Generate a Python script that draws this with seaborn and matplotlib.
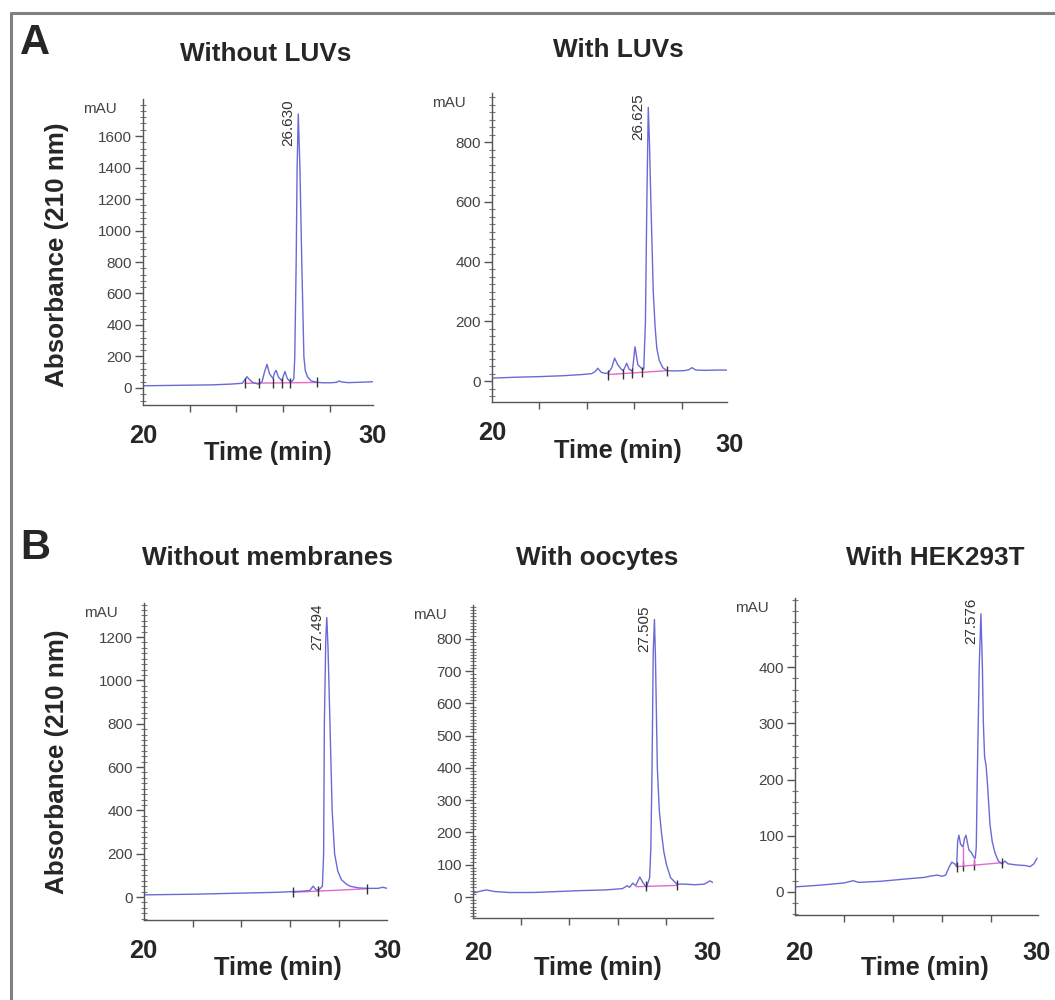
import numpy as np
import pandas as pd
import matplotlib
matplotlib.use("Agg")
import matplotlib.pyplot as plt
import seaborn as sns
from matplotlib.ticker import MultipleLocator, FixedLocator, NullFormatter
from matplotlib.lines import Line2D

# ---- chromatogram traces (time in min, absorbance in mAU) ----
luv0_t = [20.0, 21.0, 22.0, 23.0, 23.8, 24.25, 24.4, 24.45, 24.55, 24.7, 24.85, 24.97, 25.1, 25.2,
          25.31, 25.42, 25.57, 25.63, 25.70, 25.80, 25.95, 26.02, 26.08, 26.18, 26.30, 26.40, 26.46,
          26.50, 26.56, 26.60, 26.65, 26.72, 26.80, 26.89, 26.95, 27.05, 27.2, 27.45, 27.7, 28.0,
          28.3, 28.4, 28.5, 28.8, 29.2, 29.6, 29.85]
luv0_v = [14, 16, 18, 20, 25, 30, 60, 72, 55, 35, 28, 25, 40, 100,
          150, 90, 60, 95, 112, 70, 45, 80, 105, 60, 40, 45, 60,
          200, 800, 1400, 1740, 1400, 800, 200, 110, 70, 45, 36, 33, 33,
          36, 45, 38, 34, 36, 38, 40]

luv1_t = [20.0, 21.0, 22.0, 23.0, 23.8, 24.2, 24.35, 24.46, 24.6, 24.75, 24.90, 25.05, 25.17,
          25.3, 25.45, 25.53, 25.6, 25.68, 25.78, 25.92, 25.97, 26.03, 26.15, 26.34, 26.40, 26.47,
          26.53, 26.59, 26.64, 26.70, 26.80, 26.88, 26.95, 27.05, 27.2, 27.38, 27.7, 28.1, 28.3,
          28.43, 28.6, 29.0, 29.5, 29.9]
luv1_v = [10, 13, 15, 18, 22, 25, 32, 43, 30, 26, 27, 45, 77,
          55, 40, 35, 45, 60, 40, 33, 70, 115, 55, 40, 40, 200,
          600, 917, 800, 600, 300, 180, 110, 70, 45, 35, 34, 35, 38,
          45, 37, 36, 37, 37]

nomem_t = [20.0, 22.0, 24.0, 25.5, 26.5, 26.8, 26.94, 27.05, 27.15, 27.32, 27.37, 27.40, 27.46,
           27.50, 27.55, 27.63, 27.72, 27.82, 27.95, 28.1, 28.3, 28.45, 28.8, 29.2, 29.6, 29.8, 29.97]
nomem_v = [10, 13, 18, 22, 27, 30, 50, 35, 30, 50, 200, 800, 1200,
           1290, 1150, 800, 400, 200, 120, 80, 60, 50, 42, 40, 40, 45, 40]

oocyte_t = [20.0, 20.3, 20.55, 20.9, 21.5, 22.5, 23.5, 24.5, 25.5, 26.2, 26.4, 26.5, 26.63,
            26.75, 26.92, 27.05, 27.2, 27.33, 27.38, 27.43, 27.48, 27.53, 27.57, 27.65, 27.73,
            27.82, 27.92, 28.03, 28.2, 28.46, 28.8, 29.2, 29.6, 29.83, 29.96]
oocyte_v = [12, 18, 22, 17, 14, 14, 17, 20, 22, 26, 35, 30, 43,
            35, 62, 45, 30, 60, 150, 400, 760, 860, 750, 400, 270,
            200, 140, 100, 60, 40, 40, 38, 40, 50, 45]

hek_t = [20.0, 21.0, 22.0, 22.37, 22.6, 23.5, 24.5, 25.3, 25.5, 25.8, 26.0, 26.15, 26.3, 26.4,
         26.52, 26.60, 26.64, 26.69, 26.76, 26.86, 26.92, 26.98, 27.05, 27.1, 27.2, 27.3, 27.36,
         27.40, 27.44, 27.48, 27.52, 27.59, 27.65, 27.69, 27.74, 27.80, 27.86, 27.96, 28.05, 28.16,
         28.3, 28.45, 28.57, 28.7, 29.06, 29.4, 29.6, 29.75, 29.88]
hek_v = [9, 12, 16, 20, 17, 19, 23, 26, 28, 30, 28, 30, 45, 53,
         50, 45, 90, 101, 85, 80, 95, 101, 85, 75, 70, 62, 60,
         80, 200, 300, 400, 495, 400, 300, 240, 225, 190, 120, 90, 70,
         55, 50, 55, 50, 48, 47, 45, 50, 60]

# integration baselines (start/end) and event marks
luv0_base_t, luv0_base_v = [24.37, 27.45], [30, 35]
luv0_marks = [24.37, 24.97, 25.57, 25.95, 26.30, 27.45]
luv1_base_t, luv1_base_v = [24.90, 27.38], [22, 35]
luv1_marks = [24.90, 25.53, 25.92, 26.34, 27.38]
nomem_base_t, nomem_base_v = [26.12, 29.15], [22, 38]
nomem_marks = [26.12, 27.15, 29.15]
oocyte_base_t, oocyte_base_v = [26.78, 28.47], [32, 36]
oocyte_marks = [27.2, 28.47]
hek_base_t, hek_base_v = [26.6, 28.45], [45, 52]
hek_marks = [26.6, 26.86, 27.3, 28.45]
hek_drops_t = [26.86, 27.3]
hek_drops_top = [80, 60]

titles = ["Without LUVs", "With LUVs", "Without membranes", "With oocytes", "With HEK293T"]
peak_rt = ["26.630", "26.625", "27.494", "27.505", "27.576"]
peak_t = [26.65, 26.59, 27.50, 27.53, 27.59]
ylims = [(-108, 1835), (-70, 965), (-106, 1357), (-65, 905), (-41, 523)]
xlims = [(20, 29.85), (20, 29.91), (20, 29.97), (20, 29.96), (20, 29.92)]
major = [200, 200, 200, 100, 100]
minor = [40, 25, 25, 10, 20]
ytop = [1600, 800, 1200, 800, 400]

sns.set_style("ticks")
plt.rcParams["font.family"] = ["Liberation Sans", "DejaVu Sans"]

W, H = 1055, 1000
fig = plt.figure(figsize=(W / 100, H / 100), dpi=100)


def px_axes(x0, x1, y0, y1):
    return fig.add_axes([x0 / W, 1 - y1 / H, (x1 - x0) / W, (y1 - y0) / H])


boxes = [(143, 373, 99, 405), (492, 727, 93, 402), (144, 387, 603, 920),
         (473, 713, 605, 918), (795, 1038, 598, 915)]
traces = [(luv0_t, luv0_v), (luv1_t, luv1_v), (nomem_t, nomem_v), (oocyte_t, oocyte_v), (hek_t, hek_v)]
bases = [(luv0_base_t, luv0_base_v, luv0_marks), (luv1_base_t, luv1_base_v, luv1_marks),
         (nomem_base_t, nomem_base_v, nomem_marks), (oocyte_base_t, oocyte_base_v, oocyte_marks),
         (hek_base_t, hek_base_v, hek_marks)]
# label positions in pixels: (title x, title y, 20 x, 20 y, 30 x, 30 y, time x, time y)
lab = [(266, 54, 143, 436, 372, 436, 268, 453),
       (618, 50, 492, 433, 729, 445, 618, 451),
       (268, 558, 143, 951, 387, 951, 278, 968),
       (597, 558, 478, 953, 707, 953, 598, 968),
       (935, 558, 799, 953, 1036, 953, 925, 968)]

trace_col = "#6a6ad6"
grey = "#444444"

for i in range(5):
    ax = px_axes(*boxes[i])
    t, v = traces[i]
    df = pd.DataFrame({"time": t, "mAU": v})
    sns.lineplot(data=df, x="time", y="mAU", ax=ax, color=trace_col, lw=1.0,
                 estimator=None, sort=False)
    bt, bv, marks = bases[i]
    ax.plot(bt, bv, color="#e36ad0", lw=1.0, zorder=1)
    mv = np.interp(marks, bt, bv)
    ax.plot(marks, mv, ls="none", marker="|", ms=7, mew=1.0, color="#333333")
    if i == 4:
        ax.vlines(hek_drops_t, np.interp(hek_drops_t, bt, bv), hek_drops_top, color="#e36ad0", lw=1.0)
    ax.set_xlim(*xlims[i])
    ax.set_ylim(*ylims[i])
    ax.set_xlabel("")
    ax.set_ylabel("")
    for s in ["top", "right"]:
        ax.spines[s].set_visible(False)
    for s in ["left", "bottom"]:
        ax.spines[s].set_color("#555555")
        ax.spines[s].set_linewidth(1.0)
    ax.xaxis.set_major_locator(FixedLocator([22, 24, 26, 28]))
    ax.xaxis.set_major_formatter(NullFormatter())
    ax.yaxis.set_major_locator(FixedLocator(list(range(0, ytop[i] + 1, major[i]))))
    ax.yaxis.set_minor_locator(MultipleLocator(minor[i]))
    ax.tick_params(axis="x", which="major", direction="out", length=5, width=1, color="#555555",
                   bottom=True)
    ax.tick_params(axis="y", which="major", direction="out", length=6, width=1, color="#555555",
                   labelsize=11, labelcolor=grey, pad=2, left=True)
    ax.tick_params(axis="y", which="minor", direction="inout", length=4, width=0.8, color="#777777",
                   left=True)
    ax.patch.set_alpha(0)

    ax.annotate("mAU", xy=(0, 1), xycoords="axes fraction", xytext=(-26, -10),
                textcoords="offset pixels", ha="right", va="center", fontsize=11, color=grey)
    ax.annotate(peak_rt[i], xy=(peak_t[i], 1), xycoords=("data", "axes fraction"),
                xytext=(-3, 0), textcoords="offset pixels", rotation=90,
                ha="right", va="top", fontsize=11, color="#333333")

    tx, ty, ax20, ay20, ax30, ay30, axt, ayt = lab[i]
    fig.text(tx / W, 1 - ty / H, titles[i], ha="center", va="center", fontsize=18.8,
             fontweight="bold")
    fig.text(ax20 / W, 1 - ay20 / H, "20", ha="center", va="center", fontsize=18.3, fontweight="bold")
    fig.text(ax30 / W, 1 - ay30 / H, "30", ha="center", va="center", fontsize=18.3, fontweight="bold")
    fig.text(axt / W, 1 - ayt / H, "Time (min)", ha="center", va="center", fontsize=18.3,
             fontweight="bold")

# panel letters and shared y labels
fig.text(35 / W, 1 - 43 / H, "A", ha="center", va="center", fontsize=30, fontweight="bold")
fig.text(35 / W, 1 - 548 / H, "B", ha="center", va="center", fontsize=30, fontweight="bold")
fig.text(57 / W, 1 - 255 / H, "Absorbance (210 nm)", rotation=90, ha="center", va="center",
         fontsize=18.7, fontweight="bold")
fig.text(57 / W, 1 - 762 / H, "Absorbance (210 nm)", rotation=90, ha="center", va="center",
         fontsize=18.7, fontweight="bold")

# grey frame along the top and left edges
fig.add_artist(Line2D([11 / W, 11 / W], [0, 1 - 13 / H], color="#808080", lw=2.2))
fig.add_artist(Line2D([11 / W, 1], [1 - 13 / H, 1 - 13 / H], color="#808080", lw=2.2))

fig.savefig("out.png", dpi=100)
